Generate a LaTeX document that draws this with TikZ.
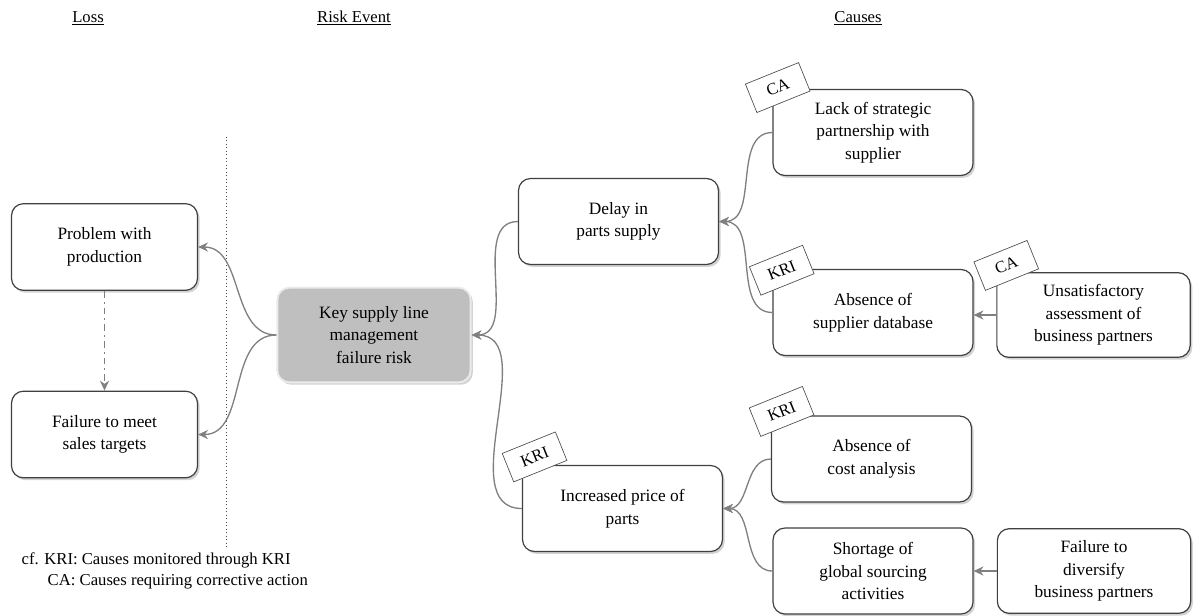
\documentclass[tikz,border=0pt]{standalone}
\usepackage{fontspec}
\setmainfont{Liberation Serif}
\usetikzlibrary{arrows.meta, positioning, shadows}
\tikzset{
    box/.style = {rectangle, rounded corners=9pt, draw=black!75, line width=0.9pt, fill=white, align=center,
        font=\fontsize{13}{17}\selectfont, minimum width=150pt, minimum height=64.5pt,
        drop shadow={shadow xshift=1.6pt, shadow yshift=-1.8pt, opacity=0.35}},
    lossbox/.style = {box, minimum width=139.5pt, minimum height=65pt},
    riskbox/.style = {box, fill=black!25, draw=black!8, line width=1.4pt, minimum width=145pt, minimum height=71pt},
    sidebox/.style = {box, minimum width=145pt, minimum height=63.5pt},
    tag/.style = {rectangle, draw=black!70, line width=0.5pt, fill=white, minimum width=43pt, minimum height=23pt,
        rotate=22, font=\fontsize{12.5}{14}\selectfont, inner sep=1pt},
    conn/.style = {-{Stealth[length=2.6mm, width=2.4mm]}, draw=black!50, line width=1pt},
    head/.style = {font=\fontsize{12.5}{15}\selectfont}
}

\begin{document}
\begin{tikzpicture}[x=0.75pt, y=-0.75pt]
\useasboundingbox (0,0) rectangle (1194,615);

% Headers
\node[head] (HLOSS) at (88,18) {\underline{Loss}};
\node[head] (HRISK) at (354,18) {\underline{Risk Event}};
\node[head] (HCAUSE) at (858,18) {\underline{Causes}};

% Separator
\draw[dotted, black!70, line width=0.6pt] (226,137) -- (226,548);

% Loss column
\node[lossbox] (PROB) at (104.5,247) {Problem with\\production};
\node[lossbox] (FAIL) at (104.5,434.5) {Failure to meet\\sales targets};

% Risk event
\node[riskbox] (RISK) at (374,335) {Key supply line\\management\\failure risk};

% Causes, first level
\node[box] (DELAY) at (618.5,221.5) {Delay in\\parts supply};
\node[box] (PRICE) at (622.5,508.5) {Increased price of\\parts};

% Causes, second level
\node[box] (LACK) at (873,132.5) {Lack of strategic\\partnership with\\supplier};
\node[box] (ABS) at (873,312.5) {Absence of\\supplier database};
\node[box] (COST) at (871.5,459) {Absence of\\cost analysis};
\node[box] (SHORT) at (873,571) {Shortage of\\global sourcing\\activities};

% Causes, third level
\node[sidebox] (UNSAT) at (1093.5,315) {Unsatisfactory\\assessment of\\business partners};
\node[sidebox] (DIV) at (1094,571) {Failure to\\diversify\\business partners};

% Tags
\node[tag] (TLACK) at ([xshift=4pt, yshift=1pt]LACK.north west) {CA};
\node[tag] (TABS) at ([xshift=7pt, yshift=-1pt]ABS.north west) {KRI};
\node[tag] (TUNSAT) at ([xshift=7.5pt, yshift=5pt]UNSAT.north west) {CA};
\node[tag] (TPRICE) at ([xshift=9.5pt, yshift=6pt]PRICE.north west) {KRI};
\node[tag] (TCOST) at ([xshift=8pt, yshift=3pt]COST.north west) {KRI};

% Risk -> losses
\draw[conn] (RISK.west) to[out=180, in=0] (PROB.east);
\draw[conn] (RISK.west) to[out=180, in=0] (FAIL.east);
\draw[conn, dash pattern=on 5pt off 3pt on 1.5pt off 3pt] (PROB.south) -- (FAIL.north);

% First level -> risk
\draw[conn] (DELAY.west) to[out=180, in=0] (RISK.east);
\draw[conn] (PRICE.west) to[out=180, in=0] (RISK.east);

% Second level -> first level
\draw[conn] (LACK.west) to[out=180, in=0] (DELAY.east);
\draw[conn] (ABS.west) to[out=180, in=0] (DELAY.east);
\draw[conn] (COST.west) to[out=180, in=0] (PRICE.east);
\draw[conn] (SHORT.west) to[out=180, in=0] (PRICE.east);

% Third level -> second level
\draw[conn] (UNSAT.west) -- (UNSAT.west -| ABS.east);
\draw[conn] (DIV.west) -- (SHORT.east);

% Legend
\node[head, anchor=west] (NOTE1) at (17,560) {cf. KRI: Causes monitored through KRI};
\node[head, anchor=west] (NOTE2) at (43,582) {CA: Causes requiring corrective action};
\end{tikzpicture}
\end{document}
